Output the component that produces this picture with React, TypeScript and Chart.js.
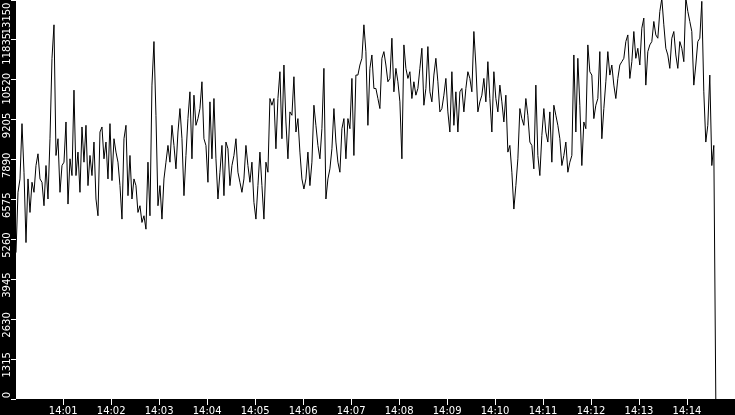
import { useEffect, useRef } from 'react';
import Chart from 'chart.js/auto';

// one sample every 2.5 s, first one at 14:00:01 (x axis is seconds after 14:00)
const START_SEC = 1;
const STEP_SEC = 2.5;

const load = [
  // 14:00:01 - 14:01:51
  4825, 6812, 7253, 9075, 7474, 5156, 7253, 6149, 7143, 6812, 7695, 8081, 7253, 7143, 6370,
  7695, 6591, 8578, 11228, 12332, 8026, 8578, 6812, 7695, 7805, 9130, 6425, 7916, 7364, 10179,
  7364, 8137, 6812, 8965, 7805, 9020, 7033, 8026, 7364, 8468, 6591, 6039, 8799, 8965, 7916,
  // 14:01:53 - 14:03:43
  8468, 7253, 9075, 7198, 8578, 8137, 7805, 7033, 5929, 8578, 9020, 6702, 8026, 6591, 7253,
  7033, 6149, 6370, 5819, 6039, 5597, 7805, 6039, 10345, 11780, 9351, 6370, 7033, 5929, 7253,
  7805, 8357, 7805, 9020, 8357, 7585, 8799, 9572, 8578, 6702, 8026, 9241, 10124, 7916, 10013,
  // 14:03:46 - 14:05:36
  9020, 9241, 9572, 10455, 8578, 8357, 7143, 9793, 7916, 9903, 7916, 6591, 7474, 8357, 6702,
  8468, 8247, 7033, 7695, 8026, 8578, 7474, 7143, 6812, 7253, 8357, 7695, 7143, 7805, 6480,
  5929, 7033, 8137, 7033, 5929, 7805, 7474, 9903, 9682, 9903, 8247, 9903, 10786, 8578, 11007,
  // 14:05:38 - 14:07:28
  9130, 7916, 9462, 9351, 10621, 8799, 9241, 8137, 7253, 6922, 7253, 8137, 7033, 7805, 9682,
  9020, 8357, 7916, 8909, 10897, 6591, 7253, 7585, 8247, 9572, 8468, 7805, 7474, 8909, 9241,
  7916, 9241, 8909, 10565, 8026, 10676, 10676, 11007, 11228, 12332, 11449, 9020, 10897, 11338, 10234,
  // 14:07:31 - 14:09:21
  10234, 9903, 9572, 11228, 11449, 11007, 10455, 10565, 11890, 10124, 10897, 10455, 9793, 7916, 11670,
  10897, 10565, 10786, 9903, 10455, 10013, 10234, 10897, 11559, 9682, 10234, 11614, 10124, 9793, 10676,
  11228, 10455, 9462, 9572, 10013, 10565, 9462, 8799, 10786, 9020, 10124, 8799, 10124, 10234, 9462,
  // 14:09:23 - 14:11:13
  10234, 10786, 10565, 10124, 12111, 11007, 9462, 9793, 10013, 10565, 9793, 11117, 9903, 8799, 10786,
  9903, 9462, 10345, 9793, 9130, 10013, 8137, 8357, 7474, 6260, 7033, 7916, 9572, 9241, 9020,
  9903, 9351, 8468, 8357, 7585, 10345, 8026, 7364, 8688, 9572, 8799, 8468, 9462, 7805, 9682,
  // 14:11:16 - 14:13:06
  9351, 9020, 8578, 7695, 8026, 8468, 7474, 7805, 8026, 11338, 8799, 11228, 9682, 7695, 9130,
  8909, 11670, 10786, 10676, 9241, 9682, 9903, 11449, 8578, 9572, 10455, 11449, 10676, 11007, 10345,
  9903, 10565, 11007, 11117, 11228, 11780, 11999, 10565, 11117, 12111, 11228, 11559, 11007, 12221, 12553,
  // 14:13:08 - 14:14:36
  10345, 11449, 11670, 11780, 12442, 11999, 11890, 12773, 13200, 12332, 11559, 11338, 10897, 11890, 12111,
  11338, 10897, 11780, 11559, 11117, 13215, 12773, 12442, 12111, 10345, 11007, 11780, 11890, 13105, 10124,
  8468, 9020, 10676, 7695, 8357, 0,
];

const xTickSec = [60, 120, 180, 240, 300, 360, 420, 480, 540, 600, 660, 720, 780, 840];
const xLabels = ['14:01', '14:02', '14:03', '14:04', '14:05', '14:06', '14:07', '14:08', '14:09', '14:10', '14:11', '14:12', '14:13', '14:14'];
const yTicks = [0, 1315, 2630, 3945, 5260, 6575, 7890, 9205, 10520, 11835, 13150];
const Y_MAX = 13150;

const font = { family: 'DejaVu Sans', size: 10 };

// black page, white plotting area
const plotBg = {
  id: 'plotBg',
  beforeDraw(chart: any) {
    const { ctx, chartArea: a, width, height } = chart;
    ctx.save();
    ctx.fillStyle = '#000';
    ctx.fillRect(0, 0, width, height);
    ctx.fillStyle = '#fff';
    ctx.fillRect(a.left, a.top, a.right - a.left, a.bottom - a.top);
    ctx.restore();
  },
};

export default function App() {
  const canvasRef = useRef<HTMLCanvasElement>(null);

  useEffect(() => {
    document.body.style.margin = '0';
    if (!canvasRef.current) return;

    const chart = new Chart(canvasRef.current, {
      type: 'line',
      data: {
        datasets: [
          {
            data: load.map((v, i) => ({ x: START_SEC + i * STEP_SEC, y: v })),
            borderColor: '#000',
            borderWidth: 1,
            pointRadius: 0,
            tension: 0,
            fill: false,
          },
        ],
      },
      options: {
        responsive: false,
        animation: false,
        events: [],
        layout: { padding: 0 },
        plugins: { legend: { display: false }, tooltip: { enabled: false } },
        scales: {
          x: {
            type: 'linear',
            min: 1,
            max: 900,
            afterBuildTicks: (s: any) => { s.ticks = xTickSec.map((value) => ({ value })); },
            afterFit: (s: any) => { s.height = 16; s.paddingLeft = 0; s.paddingRight = 0; },
            grid: { drawOnChartArea: false, tickLength: 6, tickColor: '#fff', color: '#fff' },
            border: { display: false },
            ticks: {
              color: '#fff',
              font,
              padding: 0,
              maxRotation: 0,
              autoSkip: false,
              callback: (v: any) => xLabels[xTickSec.indexOf(v)] ?? '',
            },
          },
          y: {
            min: 0,
            max: Y_MAX,
            afterBuildTicks: (s: any) => { s.ticks = yTicks.map((value) => ({ value })); },
            afterFit: (s: any) => { s.width = 16; s.paddingTop = 0; s.paddingBottom = 0; },
            grid: { drawOnChartArea: false, tickLength: 5, tickColor: '#fff', color: '#fff' },
            border: { display: false },
            ticks: {
              color: '#fff',
              font,
              padding: 4,
              minRotation: 90,
              maxRotation: 90,
              labelOffset: -7,
              autoSkip: false,
              // top label would run off the canvas, pad it down
              callback: (v: any) => (v === Y_MAX ? `${v}   ` : String(v)),
            },
          },
        },
      },
      plugins: [plotBg],
    });

    return () => chart.destroy();
  }, []);

  return <canvas ref={canvasRef} width={735} height={415} style={{ display: 'block' }} />;
}
